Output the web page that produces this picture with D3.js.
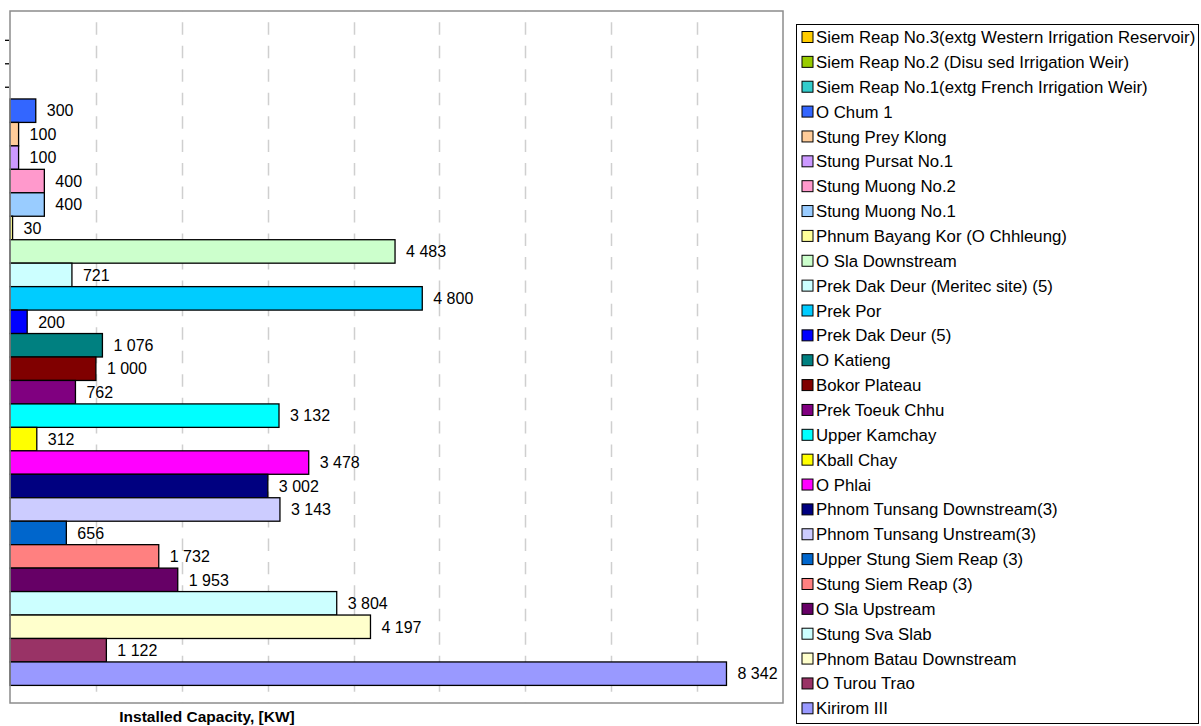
<!DOCTYPE html>
<html><head><meta charset="utf-8">
<script src="https://cdn.jsdelivr.net/npm/d3@7/dist/d3.min.js"></script>
<style>body{margin:0;background:#fff}svg{display:block;font-family:"Liberation Sans",Arial,sans-serif}</style>
</head><body><svg id="c" width="1201" height="726"></svg>
<script>
const seriesNames = [
  "Siem Reap No.3(extg Western Irrigation Reservoir)",
  "Siem Reap No.2 (Disu sed Irrigation Weir)",
  "Siem Reap No.1(extg French Irrigation Weir)",
  "O Chum 1",
  "Stung Prey Klong",
  "Stung Pursat No.1",
  "Stung Muong No.2",
  "Stung Muong No.1",
  "Phnum Bayang Kor (O Chhleung)",
  "O Sla Downstream",
  "Prek Dak Deur (Meritec site) (5)",
  "Prek Por",
  "Prek Dak Deur (5)",
  "O Katieng",
  "Bokor Plateau",
  "Prek Toeuk Chhu",
  "Upper Kamchay",
  "Kball Chay",
  "O Phlai",
  "Phnom Tunsang Downstream(3)",
  "Phnom Tunsang Unstream(3)",
  "Upper Stung Siem Reap (3)",
  "Stung Siem Reap (3)",
  "O Sla Upstream",
  "Stung Sva Slab",
  "Phnom Batau Downstream",
  "O Turou Trao",
  "Kirirom III"
];
const capacityKW = [0, 0, 0, 300, 100, 100, 400, 400, 30, 4483, 721, 4800, 200, 1076, 1000, 762,
  3132, 312, 3478, 3002, 3143, 656, 1732, 1953, 3804, 4197, 1122, 8342];
const seriesColors = ["#FFCC00", "#99CC00", "#33CCCC", "#3366FF", "#FFCC99", "#CC99FF", "#FF99CC", "#99CCFF",
  "#FFFF99", "#CCFFCC", "#CCFFFF", "#00CCFF", "#0000FF", "#008080", "#800000", "#800080",
  "#00FFFF", "#FFFF00", "#FF00FF", "#000080", "#CCCCFF", "#0066CC", "#FF8080", "#660066",
  "#CCFFFF", "#FFFFCC", "#993366", "#9999FF"];
const xTickValues = [0, 1000, 2000, 3000, 4000, 5000, 6000, 7000, 8000, 9000];
const axisTitle = "Installed Capacity, [KW]";

const data = seriesNames.map((n, i) => ({name: n, value: capacityKW[i], color: seriesColors[i]}));
const svg = d3.select("#c");
const plot = {left: 10, right: 783, top: 11, bottom: 703};

const x = d3.scaleLinear().domain([0, 9000]).range([plot.left, plot.right]);
const y = d3.scaleBand().domain(seriesNames).range([plot.top, plot.bottom]).paddingInner(0).paddingOuter(0.75);
const fmt = v => d3.format(",")(v).replace(/,/g, " ");

// gridlines (dashed, gaps centred on each bar row)
const bw = y.bandwidth();
const firstCentre = y(seriesNames[0]) + bw / 2;
const gap = 11;
const offset = (firstCentre - gap / 2) - plot.top;   // first dash runs until first gap
svg.append("g").selectAll("line").data(xTickValues.slice(1, -1)).join("line")
  .attr("x1", d => Math.round(x(d)) + 0.5).attr("x2", d => Math.round(x(d)) + 0.5)
  .attr("y1", plot.top).attr("y2", plot.bottom)
  .attr("stroke", "#cfcfcf").attr("stroke-width", 1.5)
  .attr("stroke-dasharray", `${bw - gap} ${gap}`)
  .attr("stroke-dashoffset", (bw - gap) - offset);

// bars
svg.append("g").selectAll("rect").data(data.filter(d => d.value > 0)).join("rect")
  .attr("x", x(0)).attr("y", d => y(d.name))
  .attr("width", d => x(d.value) - x(0)).attr("height", bw)
  .attr("fill", d => d.color).attr("stroke", "#000").attr("stroke-width", 1.3);

// labels
svg.append("g").selectAll("text").data(data.filter(d => d.value > 0)).join("text")
  .attr("x", d => x(d.value) + 11).attr("y", d => y(d.name) + bw / 2)
  .attr("dy", "0.36em").attr("font-size", 16).attr("fill", "#000")
  .text(d => fmt(d.value));

// zero-value markers
svg.append("g").selectAll("line").data(data.filter(d => d.value === 0)).join("line")
  .attr("x1", x(0) - 5).attr("x2", x(0) - 1)
  .attr("y1", d => y(d.name) + bw / 2).attr("y2", d => y(d.name) + bw / 2)
  .attr("stroke", "#000").attr("stroke-width", 1.3);

// plot border
svg.append("rect").attr("x", plot.left).attr("y", plot.top)
  .attr("width", plot.right - plot.left).attr("height", plot.bottom - plot.top)
  .attr("fill", "none").attr("stroke", "#8c8c8c").attr("stroke-width", 1.5);

// axis title
svg.append("text").attr("x", 207).attr("y", 722).attr("text-anchor", "middle")
  .attr("font-size", 15.5).attr("font-weight", "bold").text(axisTitle);

// legend
const lg = svg.append("g");
lg.append("rect").attr("x", 796.5).attr("y", 24.5).attr("width", 402).attr("height", 699)
  .attr("fill", "#fff").attr("stroke", "#000").attr("stroke-width", 1);
const ly = d3.scalePoint().domain(seriesNames).range([37, 708.3]);
const items = lg.selectAll("g.item").data(data).join("g").attr("class", "item")
  .attr("transform", d => `translate(0,${ly(d.name)})`);
items.append("rect").attr("x", 802).attr("y", -5.5).attr("width", 11).attr("height", 11)
  .attr("fill", d => d.color).attr("stroke", "#000").attr("stroke-width", 1);
items.append("text").attr("x", 816).attr("y", 0).attr("dy", "0.36em")
  .attr("font-size", 16.8).text(d => d.name);
</script></body></html>
